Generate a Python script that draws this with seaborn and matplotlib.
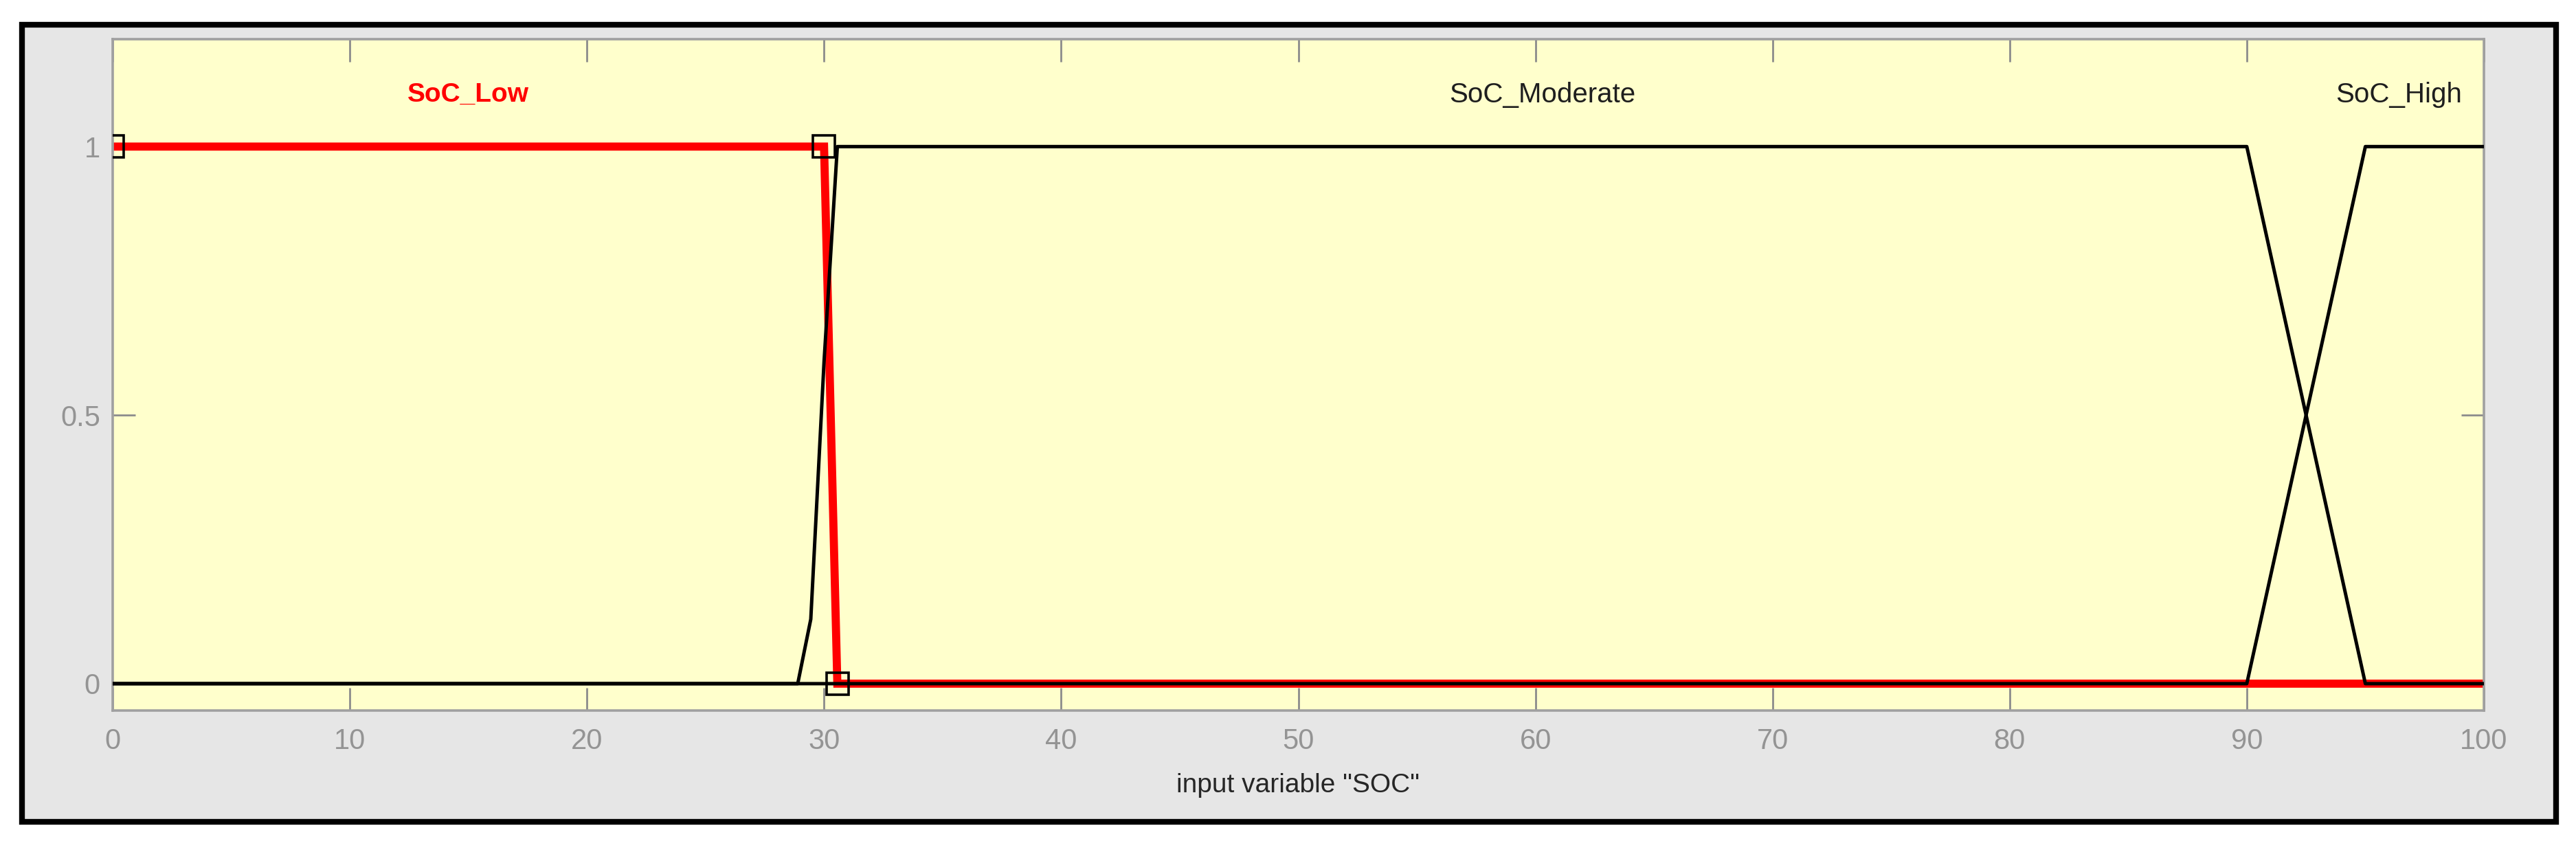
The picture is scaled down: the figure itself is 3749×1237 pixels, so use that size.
import matplotlib
matplotlib.use("Agg")
import matplotlib.pyplot as plt
from matplotlib.patches import Rectangle
import seaborn as sns
import pandas as pd

# ---------------- data ----------------
soc_low_x = [0, 30.0, 30.56, 100]
soc_low_y = [1, 1, 0, 0]

soc_mod_x = [0, 28.89, 29.44, 30.0, 30.56, 90, 95, 100]
soc_mod_y = [0, 0, 0.12, 0.6, 1, 1, 0, 0]

soc_high_x = [0, 90, 95, 100]
soc_high_y = [0, 0, 1, 1]

marker_x = [0, 30.0, 30.56]
marker_y = [1, 1, 0]

mf_names = ["SoC_Low", "SoC_Moderate", "SoC_High"]
mf_label_x = [15.0, 60.3, 96.4]
mf_label_y = [1.097, 1.097, 1.097]

x_ticks = [0, 10, 20, 30, 40, 50, 60, 70, 80, 90, 100]
y_ticks = [0, 0.5, 1]
y_tick_labels = ["0", "0.5", "1"]
x_label = 'input variable "SOC"'

# ---------------- styling ----------------
sns.set_theme(style="white")
plt.rcParams["font.family"] = ["Liberation Sans", "DejaVu Sans"]

W, H = 3749, 1237
fig = plt.figure(figsize=(W / 100, H / 100), dpi=100, facecolor="white")

# outer framed grey panel
fx0, fy0, fx1, fy1 = 31.5, 35.5, 3719.5, 1195.5
frame = Rectangle((fx0 / W, 1 - fy1 / H), (fx1 - fx0) / W, (fy1 - fy0) / H,
                  transform=fig.transFigure, facecolor="#e6e6e6",
                  edgecolor="black", linewidth=6.0, zorder=-10)
fig.patches.append(frame)

ax_l, ax_r, ax_t, ax_b = 164, 3615, 57, 1034
ax = fig.add_axes([ax_l / W, 1 - ax_b / H, (ax_r - ax_l) / W, (ax_b - ax_t) / H])
ax.set_zorder(5)
ax.set_facecolor("#ffffcc")

df_low = pd.DataFrame({"x": soc_low_x, "y": soc_low_y})
df_mod = pd.DataFrame({"x": soc_mod_x, "y": soc_mod_y})
df_high = pd.DataFrame({"x": soc_high_x, "y": soc_high_y})
df_mark = pd.DataFrame({"x": marker_x, "y": marker_y})

sns.lineplot(data=df_low, x="x", y="y", sort=False, estimator=None, color="#ff0000",
             lw=8.5, ax=ax, legend=False, zorder=2, solid_joinstyle="miter")
sns.lineplot(data=df_mod, x="x", y="y", sort=False, estimator=None, color="black",
             lw=3.6, ax=ax, legend=False, zorder=3)
sns.lineplot(data=df_high, x="x", y="y", sort=False, estimator=None, color="black",
             lw=3.6, ax=ax, legend=False, zorder=3)
sns.lineplot(data=df_mark, x="x", y="y", sort=False, estimator=None, ax=ax, legend=False,
             linestyle="", marker="s", markersize=23, markerfacecolor="none",
             markeredgecolor="black", markeredgewidth=2.6, color="black", zorder=4)

label_colors = ["#ff0000", "#1e1e1e", "#1e1e1e"]
label_weights = ["bold", "normal", "normal"]
label_sizes = [28, 29, 29]
for name, lx, ly, c, w, s in zip(mf_names, mf_label_x, mf_label_y, label_colors,
                                 label_weights, label_sizes):
    ax.text(lx, ly, name, ha="center", va="center", color=c, fontweight=w, fontsize=s)

ax.set_xlim(0, 100)
ax.set_ylim(-0.05, 1.2)
ax.set_xticks(x_ticks)
ax.set_yticks(y_ticks)
ax.set_yticklabels(y_tick_labels)

ax.tick_params(axis="both", direction="in", length=24, width=2.0, color="#8c8c8c",
               labelcolor="#949494", labelsize=30, top=True, right=True,
               bottom=True, left=True)
ax.tick_params(axis="x", pad=18)
ax.tick_params(axis="y", pad=13)

for sp in ax.spines.values():
    sp.set_color("#a0a0a0")
    sp.set_linewidth(2.6)
    sp.set_visible(True)

ax.set_xlabel(x_label, fontsize=28, color="#262626")
ax.set_ylabel("")
ax.xaxis.set_label_coords(0.5, -0.093)

fig.savefig("out.png", dpi=100, facecolor="white")
